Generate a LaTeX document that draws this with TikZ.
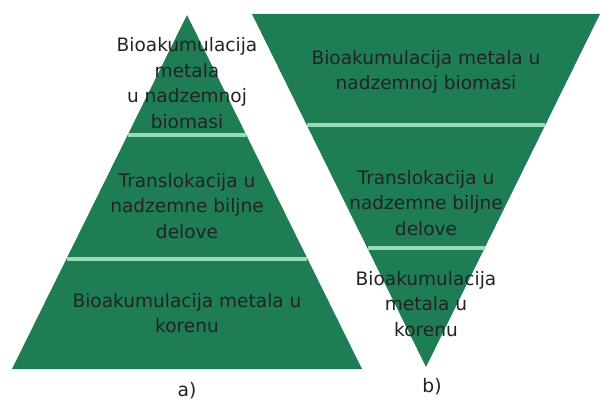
\documentclass[tikz,border=0pt]{standalone}
\usepackage{fontspec}
\setmainfont{DejaVu Sans}
\definecolor{pyrgreen}{RGB}{30,125,85}
\definecolor{seplight}{RGB}{150,220,185}
\definecolor{txt}{RGB}{35,35,35}
\begin{document}
\begin{tikzpicture}[x=0.75pt,y=-0.75pt,
  lvl/.style={align=center,text=txt,font=\fontsize{13.9pt}{19.3pt}\selectfont,inner sep=0pt},
  sepline/.style={draw=seplight,line width=2.6pt},
  lab/.style={text=txt,font=\fontsize{14pt}{16pt}\selectfont,inner sep=0pt}]
\useasboundingbox (0,0) rectangle (601,403);
\fill[white] (0,0) rectangle (601,403);
% pyramid a
\coordinate (aT) at (187,15);
\coordinate (aL) at (12,369);
\coordinate (aR) at (362,369);
\fill[pyrgreen] (aT) -- (aR) -- (aL) -- cycle;
\draw[sepline] (128,135) -- (246,135);
\draw[sepline] (67,259) -- (307,259);
% pyramid b
\coordinate (bL) at (252,14);
\coordinate (bR) at (600,14);
\coordinate (bB) at (426,367);
\fill[pyrgreen] (bL) -- (bR) -- (bB) -- cycle;
\draw[sepline] (307,125) -- (545,125);
\draw[sepline] (368,248) -- (485,248);
% texts
\node[lvl] (a1) at (187,83) {Bioakumulacija\\metala\\u nadzemnoj\\biomasi};
\node[lvl] (a2) at (187,206) {Translokacija u\\nadzemne biljne\\delove};
\node[lvl] (a3) at (187,313) {Bioakumulacija metala u\\korenu};
\node[lvl] (b1) at (426,72) {Bioakumulacija metala u\\nadzemnoj biomasi};
\node[lvl] (b2) at (426,203) {Translokacija u\\nadzemne biljne\\delove};
\node[lvl] (b3) at (426,304) {Bioakumulacija\\metala u\\korenu};
\node[lab] (la) at (187,391) {a)};
\node[lab] (lb) at (432,387) {b)};
\end{tikzpicture}
\end{document}
